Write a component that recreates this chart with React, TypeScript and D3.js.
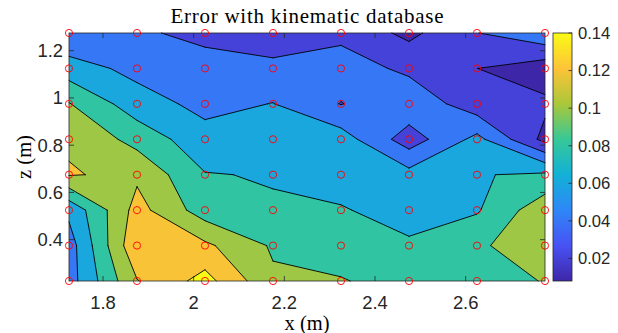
import React, { useEffect, useRef } from "react";
import * as d3 from "d3";

// measurement grid
const xPos = [1.725, 1.875, 2.025, 2.175, 2.325, 2.475, 2.625, 2.775];
const zPos = [0.225, 0.375, 0.525, 0.675, 0.825, 0.975, 1.125, 1.275];

// error, one row per z (bottom row first), one value per x
const errRows = [
  [0.0512, 0.119, 0.1474, 0.1032, 0.1016, 0.09, 0.082, 0.102],
  [0.0504, 0.137, 0.124, 0.0975, 0.088, 0.0828, 0.096, 0.116],
  [0.0647, 0.1275, 0.0898, 0.0821, 0.0815, 0.0721, 0.078, 0.1135],
  [0.1212, 0.1162, 0.081, 0.0786, 0.0715, 0.067, 0.0787, 0.0835],
  [0.118, 0.093, 0.067, 0.068, 0.0697, 0.0296, 0.066, 0.014],
  [0.101, 0.0687, 0.0544, 0.0605, 0.0393, 0.055, 0.0278, 0.0242],
  [0.069, 0.0542, 0.056, 0.0464, 0.05, 0.0355, 0.0201, 0.0081],
  [0.0426, 0.046, 0.0293, 0.025, 0.0346, 0.0151, 0.0395, 0.0557],
];

const levels = [0.02, 0.04, 0.06, 0.08, 0.1, 0.12, 0.14];
const xTicks = [1.8, 2, 2.2, 2.4, 2.6];
const zTicks = [0.4, 0.6, 0.8, 1, 1.2];
const cbTicks = [0.02, 0.04, 0.06, 0.08, 0.1, 0.12, 0.14];
const cLim = [0.008, 0.14];
const parula = ["#3e26a8", "#4852f4", "#2e87f7", "#12b1d6", "#37c897", "#abc739", "#fec338", "#f9fb15"];

// marching squares, one cell at a time, saddles decided by the cell mean
const contourLevel = (L: number) => {
  const polys: number[][][] = [];
  const segs: number[][][] = [];
  for (let j = 0; j < zPos.length - 1; j++) {
    for (let i = 0; i < xPos.length - 1; i++) {
      const P = [[xPos[i], zPos[j]], [xPos[i + 1], zPos[j]], [xPos[i + 1], zPos[j + 1]], [xPos[i], zPos[j + 1]]];
      const V = [errRows[j][i], errRows[j][i + 1], errRows[j + 1][i + 1], errRows[j + 1][i]];
      const hi = V.map(v => v >= L);
      const nHi = hi.filter(Boolean).length;
      if (nHi === 0) continue;
      if (nHi === 4) { polys.push(P); continue; }
      const cut = (a: number, b: number) => {
        const t = (L - V[a]) / (V[b] - V[a]);
        return [P[a][0] + t * (P[b][0] - P[a][0]), P[a][1] + t * (P[b][1] - P[a][1])];
      };
      if (nHi === 2 && hi[0] === hi[2]) {
        const c = [cut(0, 1), cut(1, 2), cut(2, 3), cut(3, 0)];
        if (d3.mean(V)! >= L) {
          const poly: number[][] = [];
          for (let k = 0; k < 4; k++) { if (hi[k]) poly.push(P[k]); poly.push(c[k]); }
          polys.push(poly);
          [0, 1, 2, 3].filter(k => !hi[k]).forEach(k => segs.push([c[(k + 3) % 4], c[k]]));
        } else {
          [0, 1, 2, 3].filter(k => hi[k]).forEach(k => {
            polys.push([c[(k + 3) % 4], P[k], c[k]]);
            segs.push([c[(k + 3) % 4], c[k]]);
          });
        }
        continue;
      }
      const poly: number[][] = [];
      const cr: number[][] = [];
      for (let k = 0; k < 4; k++) {
        const k2 = (k + 1) % 4;
        if (hi[k]) poly.push(P[k]);
        if (hi[k] !== hi[k2]) { const p = cut(k, k2); poly.push(p); cr.push(p); }
      }
      polys.push(poly);
      segs.push([cr[0], cr[1]]);
    }
  }
  return { polys, segs };
};

const ErrorContour = () => {
  const svgRef = useRef<SVGSVGElement>(null);

  useEffect(() => {
    document.body.style.margin = "0";
    const width = 618, height = 333;
    const plot = { left: 69, top: 33, right: 545, bottom: 281 };
    const cb = { left: 553, right: 572 };
    const axisColor = "#262626";
    const sans = "'Liberation Sans', Arial, Helvetica, sans-serif";
    const serif = "'Liberation Serif', 'Times New Roman', serif";

    const svg = d3.select(svgRef.current)
      .attr("width", width)
      .attr("height", height)
      .style("display", "block");
    svg.selectAll("*").remove();

    const x = d3.scaleLinear().domain([xPos[0], xPos[xPos.length - 1]]).range([plot.left, plot.right]);
    const y = d3.scaleLinear().domain([zPos[0], zPos[zPos.length - 1]]).range([plot.bottom, plot.top]);
    const cy = d3.scaleLinear().domain(cLim).range([plot.bottom, plot.top]);
    const color = d3.scaleLinear<string>()
      .domain(parula.map((_, k) => cLim[0] + (k / (parula.length - 1)) * (cLim[1] - cLim[0])))
      .range(parula)
      .interpolate(d3.interpolateRgb)
      .clamp(true);

    const pt = (q: number[]) => `${x(q[0])},${y(q[1])}`;

    // filled bands
    svg.append("rect")
      .attr("x", plot.left).attr("y", plot.top)
      .attr("width", plot.right - plot.left).attr("height", plot.bottom - plot.top)
      .attr("fill", color(cLim[0]));

    const contours = levels.map(L => ({ L, ...contourLevel(L) }));
    svg.append("g").selectAll("path")
      .data(contours)
      .enter()
      .append("path")
      .attr("d", d => d.polys.map(p => "M" + p.map(pt).join("L") + "Z").join(""))
      .attr("fill", d => color(d.L));

    svg.append("g").selectAll("path")
      .data(contours)
      .enter()
      .append("path")
      .attr("d", d => d.segs.map(s => `M${pt(s[0])}L${pt(s[1])}`).join(""))
      .attr("fill", "none")
      .attr("stroke", "#000")
      .attr("stroke-width", 0.9)
      .attr("stroke-linecap", "round")
      .attr("stroke-linejoin", "round");

    // axes box and inward ticks
    const ax = svg.append("g").attr("stroke", axisColor).attr("stroke-width", 0.8).attr("fill", "none");
    ax.append("rect")
      .attr("x", plot.left).attr("y", plot.top)
      .attr("width", plot.right - plot.left).attr("height", plot.bottom - plot.top);
    xTicks.forEach(t => {
      ax.append("line").attr("x1", x(t)).attr("x2", x(t)).attr("y1", plot.bottom).attr("y2", plot.bottom - 5);
      ax.append("line").attr("x1", x(t)).attr("x2", x(t)).attr("y1", plot.top).attr("y2", plot.top + 5);
    });
    zTicks.forEach(t => {
      ax.append("line").attr("x1", plot.left).attr("x2", plot.left + 5).attr("y1", y(t)).attr("y2", y(t));
      ax.append("line").attr("x1", plot.right).attr("x2", plot.right - 5).attr("y1", y(t)).attr("y2", y(t));
    });

    svg.append("g").selectAll("text")
      .data(xTicks)
      .enter()
      .append("text")
      .attr("x", d => x(d))
      .attr("y", 309)
      .attr("text-anchor", "middle")
      .attr("font-family", sans)
      .attr("font-size", 18.4)
      .attr("fill", axisColor)
      .text(d => String(d));

    svg.append("g").selectAll("text")
      .data(zTicks)
      .enter()
      .append("text")
      .attr("x", plot.left - 6)
      .attr("y", d => y(d))
      .attr("dy", "0.35em")
      .attr("text-anchor", "end")
      .attr("font-family", sans)
      .attr("font-size", 18.4)
      .attr("fill", axisColor)
      .text(d => String(d));

    // grid points
    const pts = zPos.flatMap(z => xPos.map(xv => [xv, z]));
    svg.append("g").selectAll("circle")
      .data(pts)
      .enter()
      .append("circle")
      .attr("cx", d => x(d[0]))
      .attr("cy", d => y(d[1]))
      .attr("r", 3.6)
      .attr("fill", "none")
      .attr("stroke", "#ff0000")
      .attr("stroke-width", 0.9);

    // colorbar
    const grad = svg.append("defs").append("linearGradient")
      .attr("id", "parulaGrad")
      .attr("x1", 0).attr("y1", 1).attr("x2", 0).attr("y2", 0);
    grad.selectAll("stop")
      .data(parula)
      .enter()
      .append("stop")
      .attr("offset", (_, k) => k / (parula.length - 1))
      .attr("stop-color", d => d);
    svg.append("rect")
      .attr("x", cb.left).attr("y", plot.top)
      .attr("width", cb.right - cb.left).attr("height", plot.bottom - plot.top)
      .attr("fill", "url(#parulaGrad)")
      .attr("stroke", axisColor)
      .attr("stroke-width", 0.8);
    cbTicks.forEach(t => {
      svg.append("line")
        .attr("x1", cb.right).attr("x2", cb.right - 3.5)
        .attr("y1", cy(t)).attr("y2", cy(t))
        .attr("stroke", axisColor).attr("stroke-width", 0.8);
    });
    svg.append("g").selectAll("text")
      .data(cbTicks)
      .enter()
      .append("text")
      .attr("x", cb.right + 6)
      .attr("y", d => cy(d))
      .attr("dy", "0.35em")
      .attr("font-family", sans)
      .attr("font-size", 16.6)
      .attr("fill", axisColor)
      .text(d => String(d));

    // title and axis labels
    svg.append("text")
      .attr("x", (plot.left + plot.right) / 2)
      .attr("y", 23)
      .attr("text-anchor", "middle")
      .attr("font-family", serif)
      .attr("font-size", 21)
      .attr("textLength", 273)
      .attr("lengthAdjust", "spacing")
      .attr("fill", "#000")
      .text("Error with kinematic database");

    svg.append("text")
      .attr("x", (plot.left + plot.right) / 2)
      .attr("y", 330)
      .attr("text-anchor", "middle")
      .attr("font-family", serif)
      .attr("font-size", 20.5)
      .attr("fill", "#000")
      .text("x (m)");

    svg.append("text")
      .attr("transform", `translate(31, ${(plot.top + plot.bottom) / 2}) rotate(-90)`)
      .attr("text-anchor", "middle")
      .attr("font-family", serif)
      .attr("font-size", 20.5)
      .attr("fill", "#000")
      .text("z (m)");
  }, []);

  return <svg ref={svgRef}></svg>;
};

export default function App() {
  return <ErrorContour />;
}
